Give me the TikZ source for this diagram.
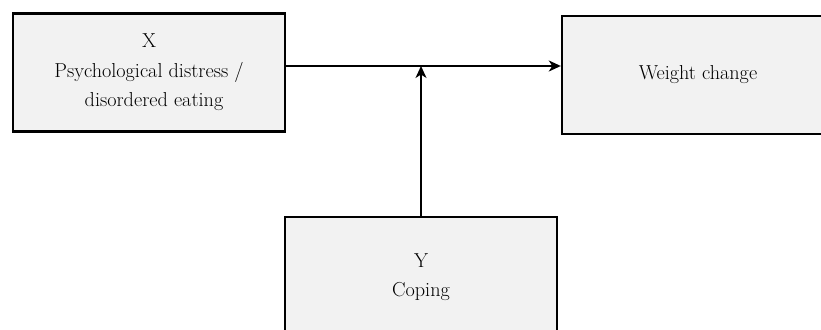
\documentclass[tikz,border=0pt]{standalone}
\usetikzlibrary{arrows.meta}
\definecolor{boxgray}{RGB}{242,242,242}
\begin{document}
\begin{tikzpicture}[x=1pt,y=-1pt,
  box/.style={draw=black, line width=2.4pt, fill=boxgray, minimum width=272pt, minimum height=118pt, inner sep=0pt, align=center, font=\fontsize{20.2}{29.5}\selectfont},
  conn/.style={line width=1.6pt, -{Stealth[length=12pt,width=11pt,inset=3.5pt]}}]
\useasboundingbox (0,0) rectangle (821,329);
\clip (0,0) rectangle (821,329);
\node[box] (x) at (149,72.5) {X\\Psychological distress /\\\hspace{10pt}disordered eating};
\node[box] (w) at (698,75) {Weight change};
\node[box, minimum height=120pt] (y) at (421,277) {Y\\Coping};
\coordinate (m) at (421,66);
\draw[conn] (x.east |- m) -- (w.west |- m);
\draw[conn] (y.north) -- (m);
\end{tikzpicture}
\end{document}
